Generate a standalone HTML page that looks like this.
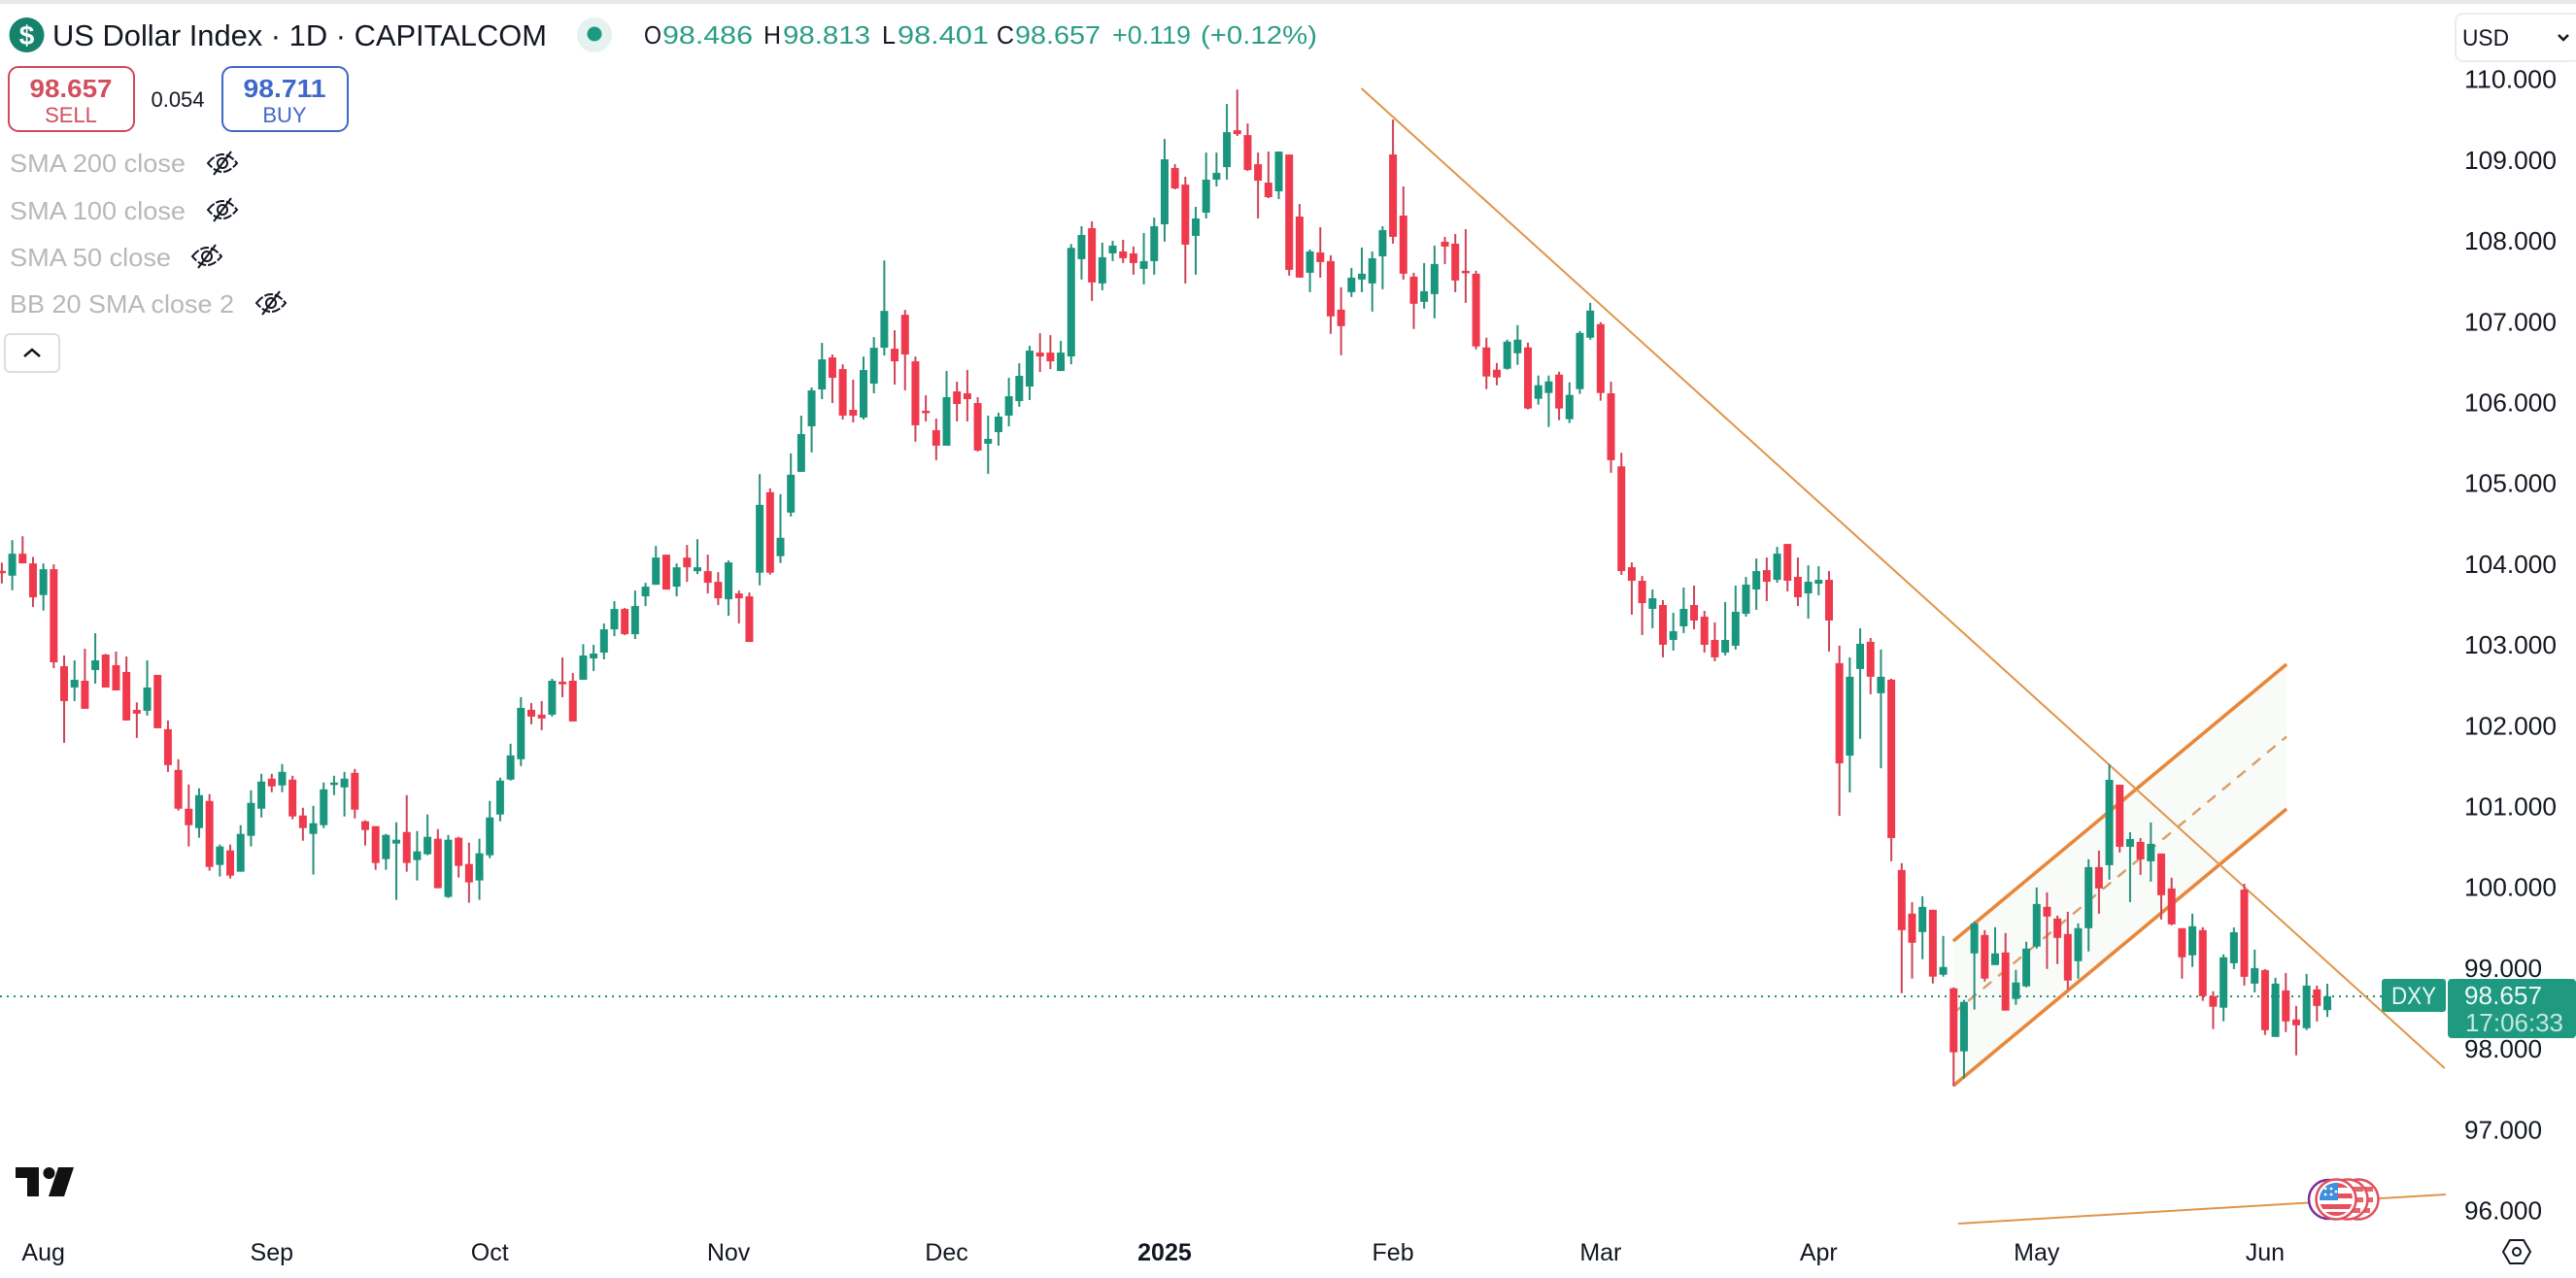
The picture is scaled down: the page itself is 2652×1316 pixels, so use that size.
<!DOCTYPE html>
<html lang="en">
<head>
<meta charset="utf-8">
<title>US Dollar Index chart</title>
<style>
html,body{margin:0;padding:0;background:#fff;width:2652px;height:1316px;overflow:hidden}
svg{display:block}
text{font-family:"Liberation Sans",sans-serif;fill:#131722}
</style>
</head>
<body>
<svg id="chart" xmlns="http://www.w3.org/2000/svg" width="2652" height="1316" viewBox="0 0 2652 1316">
  <rect x="0" y="0" width="2652" height="1316" fill="#ffffff"/>
  <rect x="0" y="0" width="2652" height="4" fill="#e8e8e8"/>
  <g id="drawings"></g>
  <g id="candles"></g>
  <g id="flags">
    <circle cx="2397" cy="1235" r="20" fill="#fff" stroke="#7f2d9a" stroke-width="2.5"/>
    <circle cx="2428" cy="1235" r="20.5" fill="#fff" stroke="#e0505c" stroke-width="2.5"/>
    <rect x="2410" y="1222" width="33" height="5" fill="#e8636b"/>
    <rect x="2410" y="1233" width="33" height="5" fill="#e8636b"/>
    <rect x="2410" y="1244" width="30" height="5" fill="#e8636b"/>
    <circle cx="2417" cy="1235" r="20.5" fill="#fff" stroke="#e0505c" stroke-width="2.5"/>
    <rect x="2400" y="1222" width="33" height="5" fill="#e8636b"/>
    <rect x="2400" y="1233" width="33" height="5" fill="#e8636b"/>
    <rect x="2400" y="1244" width="30" height="5" fill="#e8636b"/>
    <circle cx="2405" cy="1235" r="20.5" fill="#fff" stroke="#e0505c" stroke-width="2.5"/>
    <clipPath id="flagClip"><circle cx="2405" cy="1235" r="17"/></clipPath>
    <g clip-path="url(#flagClip)">
      <rect x="2388" y="1218" width="34" height="34" fill="#ffffff"/>
      <rect x="2388" y="1218" width="34" height="5" fill="#e8505c"/>
      <rect x="2388" y="1229" width="34" height="5" fill="#e8505c"/>
      <rect x="2388" y="1240" width="34" height="5" fill="#e8505c"/>
      <rect x="2388" y="1248" width="34" height="5" fill="#e8505c"/>
      <rect x="2388" y="1218" width="19" height="18" fill="#3f8fdc"/>
      <circle cx="2394" cy="1224" r="1.4" fill="#fff"/><circle cx="2400" cy="1224" r="1.4" fill="#fff"/>
      <circle cx="2394" cy="1230" r="1.4" fill="#fff"/><circle cx="2400" cy="1230" r="1.4" fill="#fff"/>
      <circle cx="2405" cy="1227" r="1.4" fill="#fff"/>
    </g>
  </g>
  <g id="yaxis"></g>
  <g id="xaxis"></g>

  <g>
    <rect x="2452" y="1008" width="66" height="34" rx="3" fill="#1f9a80"/>
    <text x="2485" y="1034" text-anchor="middle" font-size="25" textLength="46" lengthAdjust="spacingAndGlyphs" style="fill:#e8f6f2">DXY</text>
    <rect x="2520" y="1008" width="132" height="61" rx="4" fill="#1f9a80"/>
    <text x="2537" y="1034" font-size="26" textLength="80" lengthAdjust="spacingAndGlyphs" style="fill:#eef9f6">98.657</text>
    <text x="2538" y="1062" font-size="26" textLength="101" lengthAdjust="spacingAndGlyphs" style="fill:#c4e8df">17:06:33</text>
  </g>

  <g>
    <circle cx="27.5" cy="36" r="18" fill="#15826c"/>
    <text x="27.5" y="46" text-anchor="middle" font-size="28" font-weight="bold" style="fill:#ffffff">$</text>
    <text x="54" y="47" font-size="31" textLength="509" lengthAdjust="spacingAndGlyphs">US Dollar Index · 1D · CAPITALCOM</text>
    <circle cx="612" cy="36" r="18" fill="#e5f2ef"/>
    <circle cx="612" cy="35" r="7.5" fill="#1c9a80"/>
    <g font-size="26">
      <text x="663" y="45" textLength="18" lengthAdjust="spacingAndGlyphs">O</text>
      <text x="682" y="45" textLength="93" lengthAdjust="spacingAndGlyphs" style="fill:#2a9d85">98.486</text>
      <text x="786" y="45" textLength="18" lengthAdjust="spacingAndGlyphs">H</text>
      <text x="806" y="45" textLength="90" lengthAdjust="spacingAndGlyphs" style="fill:#2a9d85">98.813</text>
      <text x="908" y="45" textLength="14" lengthAdjust="spacingAndGlyphs">L</text>
      <text x="924" y="45" textLength="94" lengthAdjust="spacingAndGlyphs" style="fill:#2a9d85">98.401</text>
      <text x="1026" y="45" textLength="18" lengthAdjust="spacingAndGlyphs">C</text>
      <text x="1045" y="45" textLength="88" lengthAdjust="spacingAndGlyphs" style="fill:#2a9d85">98.657</text>
      <text x="1145" y="45" textLength="81" lengthAdjust="spacingAndGlyphs" style="fill:#2a9d85">+0.119</text>
      <text x="1236" y="45" textLength="120" lengthAdjust="spacingAndGlyphs" style="fill:#2a9d85">(+0.12%)</text>
    </g>

    <g>
      <rect x="9" y="69" width="129" height="66" rx="10" fill="#fff" stroke="#cf4a5a" stroke-width="2"/>
      <text x="73" y="100" text-anchor="middle" font-size="26" font-weight="bold" textLength="85" lengthAdjust="spacingAndGlyphs" style="fill:#d0505e">98.657</text>
      <text x="73" y="126" text-anchor="middle" font-size="22" style="fill:#d0505e">SELL</text>
    </g>
    <text x="183" y="110" text-anchor="middle" font-size="22">0.054</text>
    <g>
      <rect x="229" y="69" width="129" height="66" rx="10" fill="#fff" stroke="#3f68c8" stroke-width="2"/>
      <text x="293" y="100" text-anchor="middle" font-size="26" font-weight="bold" textLength="85" lengthAdjust="spacingAndGlyphs" style="fill:#3f68c8">98.711</text>
      <text x="293" y="126" text-anchor="middle" font-size="22" style="fill:#3f68c8">BUY</text>
    </g>

    <g font-size="26" style="fill:#b8b8b8">
      <text x="10" y="177" textLength="181" lengthAdjust="spacingAndGlyphs" style="fill:#b8b8b8">SMA 200 close</text>
      <text x="10" y="226" textLength="181" lengthAdjust="spacingAndGlyphs" style="fill:#b8b8b8">SMA 100 close</text>
      <text x="10" y="274" textLength="166" lengthAdjust="spacingAndGlyphs" style="fill:#b8b8b8">SMA 50 close</text>
      <text x="10" y="322" textLength="231" lengthAdjust="spacingAndGlyphs" style="fill:#b8b8b8">BB 20 SMA close 2</text>
    </g>
    <g transform="translate(229 168)" fill="none" stroke="#131722" stroke-width="2">
      <path d="M-15 0 Q0 -18 15 0 Q0 18 -15 0Z" stroke-dasharray="9 2"/><circle r="5"/><path d="M-9 12 L9 -12"/>
    </g>
    <g transform="translate(229 216)" fill="none" stroke="#131722" stroke-width="2">
      <path d="M-15 0 Q0 -18 15 0 Q0 18 -15 0Z" stroke-dasharray="9 2"/><circle r="5"/><path d="M-9 12 L9 -12"/>
    </g>
    <g transform="translate(213 264)" fill="none" stroke="#131722" stroke-width="2">
      <path d="M-15 0 Q0 -18 15 0 Q0 18 -15 0Z" stroke-dasharray="9 2"/><circle r="5"/><path d="M-9 12 L9 -12"/>
    </g>
    <g transform="translate(279 312)" fill="none" stroke="#131722" stroke-width="2">
      <path d="M-15 0 Q0 -18 15 0 Q0 18 -15 0Z" stroke-dasharray="9 2"/><circle r="5"/><path d="M-9 12 L9 -12"/>
    </g>
    <g>
      <rect x="5" y="344" width="56" height="39" rx="5" fill="#fff" stroke="#dedede" stroke-width="2"/>
      <path d="M25 367 L33 360 L41 367" fill="none" stroke="#131722" stroke-width="2.5"/>
    </g>
  </g>

  <g>
    <rect x="2528" y="14" width="130" height="49" rx="8" fill="#fff" stroke="#ececec" stroke-width="2"/>
    <text x="2535" y="47" font-size="24" textLength="48" lengthAdjust="spacingAndGlyphs">USD</text>
    <path d="M2634 36 L2639 41 L2644 36" fill="none" stroke="#131722" stroke-width="2.5"/>
  </g>

  <g fill="#111111">
    <path d="M16 1202 H40 V1232 H28 V1213 H16 Z"/>
    <circle cx="50.5" cy="1208" r="6"/>
    <path d="M60 1202 H76 L66 1232 H50 Z"/>
  </g>

  <g fill="none" stroke="#131722" stroke-width="2">
    <path d="M2577 1289 L2584 1277 H2598 L2605 1289 L2598 1301 H2584 Z"/>
    <circle cx="2591" cy="1289" r="4"/>
  </g>
</svg>
<script>
const opens = [
103.923,103.863,104.135,104.015,103.623,103.943,102.743,102.479,102.563,102.695,
102.887,102.755,102.671,102.203,102.191,102.635,101.963,101.459,100.979,100.739,
101.075,100.283,100.463,100.199,100.643,100.979,101.351,101.267,101.339,100.895,
100.667,100.775,101.279,101.243,101.423,100.823,100.763,100.355,100.547,100.691,
100.343,100.415,100.607,99.887,100.619,100.295,100.091,100.403,100.907,101.339,
101.591,102.203,102.143,102.143,102.551,102.563,102.575,102.839,102.911,103.199,
103.451,103.139,103.607,103.751,104.123,103.727,104.087,103.919,103.919,103.787,
103.571,103.643,103.607,103.90,104.896,104.104,104.644,105.148,105.712,106.168,
106.564,106.42,105.916,105.82,106.24,106.684,106.672,107.092,106.516,105.904,
105.664,105.472,106.144,106.12,106.00,105.496,105.64,105.844,106.024,106.204,
106.624,106.624,106.396,106.576,107.78,108.164,107.48,107.852,107.876,107.852,
107.66,107.756,108.212,108.908,108.704,108.068,108.356,108.764,108.92,109.376,
109.316,108.956,108.728,108.62,109.076,108.308,107.612,107.864,107.756,107.156,
107.372,107.528,107.48,107.816,109.076,108.32,107.564,107.252,107.348,107.996,
107.972,107.636,107.60,106.688,106.412,106.424,106.616,106.688,106.052,106.124,
106.352,105.80,106.172,106.808,106.976,106.12,105.216,103.968,103.80,103.452,
103.50,103.068,103.236,103.50,103.356,103.068,102.912,102.996,103.392,103.692,
103.932,103.812,104.256,103.848,103.644,103.764,103.812,102.78,101.636,102.708,
103.044,102.408,102.576,100.22,99.68,99.452,99.728,98.924,98.756,97.976,
99.188,99.416,99.044,99.20,98.624,98.78,99.272,99.764,99.62,99.428,
99.092,99.50,100.256,100.28,101.276,100.508,100.568,100.328,100.424,99.992,
99.50,99.164,99.476,98.66,98.516,99.066,99.978,98.814,98.982,98.154,
98.73,98.37,98.262,98.742,98.486];
const highs = [
104.023,104.303,104.351,104.095,104.015,104.003,102.875,102.815,102.959,103.151,
102.895,102.923,102.863,102.295,102.815,102.635,102.071,101.591,101.279,101.231,
101.159,100.535,100.535,100.775,101.207,101.411,101.411,101.531,101.387,100.991,
101.015,101.303,101.387,101.435,101.471,100.835,100.763,100.667,100.811,101.147,
100.703,100.907,100.727,100.655,100.631,100.559,100.607,101.075,101.363,101.783,
102.359,102.287,102.311,102.587,102.851,102.659,103.015,103.007,103.271,103.547,
103.463,103.679,103.775,104.231,104.123,104.015,104.243,104.315,104.123,103.907,
104.051,103.679,103.655,105.12,104.944,104.872,105.376,105.844,106.192,106.744,
106.60,106.48,106.288,106.576,106.816,107.764,106.90,107.152,106.576,106.096,
105.808,106.396,106.264,106.408,106.072,105.844,105.88,106.312,106.492,106.708,
106.864,106.84,106.768,107.968,108.188,108.248,107.984,108.008,108.02,107.936,
108.104,108.296,109.268,108.956,108.80,108.428,109.10,109.10,109.70,109.88,
109.46,109.10,109.112,109.112,109.076,108.464,107.90,108.176,107.828,107.432,
107.672,107.924,107.876,108.188,109.508,108.68,107.612,107.732,107.948,108.056,
108.092,108.152,107.636,106.808,106.496,106.784,106.964,106.748,106.34,106.34,
106.388,106.256,106.892,107.24,107.00,106.264,105.384,104.028,103.86,103.692,
103.56,103.404,103.716,103.74,103.428,103.284,103.536,103.74,103.848,104.076,
104.088,104.22,104.256,104.088,103.992,103.98,103.92,102.996,102.852,103.212,
103.092,102.948,102.588,100.304,99.824,99.896,99.728,99.404,98.768,98.612,
99.584,99.476,99.512,99.44,98.984,99.332,100.004,99.944,99.656,99.704,
99.56,100.352,100.46,101.528,101.276,100.688,100.616,100.808,100.424,100.124,
99.50,99.68,99.512,98.72,99.176,99.51,100.05,99.234,98.994,98.886,
98.946,98.538,98.934,98.79,98.813];
const lows = [
103.767,103.683,104.015,103.475,103.431,102.719,101.795,102.311,102.215,102.527,
102.479,102.443,102.071,101.855,102.131,101.975,101.435,100.955,100.511,100.619,
100.211,100.139,100.115,100.199,100.511,100.871,101.183,101.183,100.847,100.583,
100.163,100.739,101.147,100.883,100.859,100.523,100.223,100.223,99.851,100.199,
100.091,100.403,99.995,99.875,100.127,99.815,99.851,100.367,100.823,101.327,
101.507,102.023,101.951,102.119,102.359,102.059,102.575,102.683,102.827,103.115,
103.127,103.079,103.487,103.751,103.691,103.607,103.787,103.883,103.643,103.499,
103.367,103.271,103.043,103.744,103.876,104.02,104.596,105.148,105.388,106.048,
106.00,105.796,105.76,105.796,106.12,106.588,106.228,106.156,105.52,105.772,
105.292,105.472,105.772,105.772,105.40,105.124,105.472,105.712,105.952,106.036,
106.384,106.42,106.396,106.48,107.528,107.264,107.396,107.756,107.732,107.588,
107.468,107.588,107.996,108.644,107.48,107.588,108.284,108.68,108.764,109.304,
108.872,108.284,108.536,108.524,107.576,107.552,107.372,107.552,106.856,106.592,
107.312,107.372,107.132,107.408,107.972,107.528,106.916,107.168,107.048,107.72,
107.372,107.24,106.664,106.172,106.22,106.412,106.472,105.92,105.98,105.704,
105.788,105.752,106.112,106.784,106.028,105.136,103.872,103.38,103.128,103.212,
102.852,102.936,103.152,103.20,102.912,102.804,102.876,102.948,103.356,103.44,
103.548,103.776,103.668,103.488,103.332,103.62,102.924,100.89,101.18,101.844,
102.396,101.48,100.328,98.696,98.876,99.116,98.816,98.90,97.544,97.64,
98.492,98.84,99.044,98.48,98.552,98.768,99.248,98.996,99.056,98.744,
98.876,99.212,99.68,100.10,100.436,99.824,100.16,100.076,99.608,99.536,
98.876,99.02,98.60,98.252,98.348,98.994,98.79,98.706,98.178,98.154,
98.214,97.926,98.238,98.346,98.401];
const closes = [
103.903,104.135,104.015,103.595,103.943,102.791,102.311,102.575,102.215,102.815,
102.479,102.443,102.071,102.155,102.479,101.975,101.519,100.979,100.775,101.147,
100.259,100.511,100.151,100.667,101.051,101.315,101.255,101.435,100.883,100.739,
100.799,101.219,101.303,101.351,100.967,100.715,100.307,100.655,100.595,100.307,
100.451,100.631,99.995,100.595,100.271,100.067,100.427,100.871,101.327,101.639,
102.227,102.119,102.095,102.563,102.519,102.059,102.875,102.899,103.199,103.451,
103.139,103.487,103.727,104.087,103.691,103.967,103.967,103.967,103.775,103.583,
104.027,103.583,103.043,104.74,103.90,104.332,105.112,105.616,106.156,106.54,
106.312,105.844,105.844,106.408,106.684,107.14,106.516,106.60,105.724,105.88,
105.472,106.072,105.988,106.048,105.412,105.556,105.832,106.084,106.336,106.648,
106.576,106.516,106.624,107.92,108.08,107.492,107.804,107.948,107.792,107.732,
107.756,108.188,109.016,108.656,107.96,108.284,108.764,108.848,109.352,109.328,
108.884,108.752,108.548,109.112,107.648,107.552,107.876,107.744,107.072,106.952,
107.552,107.60,107.792,108.14,108.056,107.60,107.228,107.384,107.72,107.936,
107.516,107.612,106.70,106.328,106.316,106.76,106.784,105.932,106.22,106.268,
105.932,106.10,106.868,107.144,106.124,105.292,103.92,103.80,103.524,103.584,
103.008,103.176,103.452,103.308,103.008,102.852,103.068,103.416,103.752,103.92,
103.788,104.136,103.80,103.596,103.788,103.812,103.308,101.54,102.612,103.02,
102.612,102.612,100.616,99.476,99.32,99.764,98.90,99.02,97.964,98.588,
99.56,98.876,99.188,98.48,98.828,99.248,99.80,99.644,99.38,98.852,
99.50,100.256,99.992,101.336,100.508,100.604,100.352,100.544,99.908,99.548,
99.14,99.524,98.66,98.528,99.14,99.45,98.898,99.006,98.238,98.814,
98.346,98.298,98.79,98.538,98.657];

const priceTicks = [110,109,108,107,106,105,104,103,102,101,100,99,98,97,96];
const timeBars = [4,26,47,70,91,112,134,154,175,196,218];
const timeLabels = ["Aug","Sep","Oct","Nov","Dec","2025","Feb","Mar","Apr","May","Jun"];
const lastPrice = 98.657;

const trendBars = [130.96,235.3];
const trendPrices = [109.894,97.767];
const channelBars = [187.97,220.07];
const channelUpper = [99.341,102.767];
const channelLower = [97.55,100.976];
const floorBars = [188.44,235.4];
const floorPrices = [95.844,96.204];

const SVGNS = "http://www.w3.org/2000/svg";
function xScale(i){ return 1.9 + 10.688 * i; }
function yScale(p){ return 1247 - (p - 96) * 83.2; }
function make(tag, attrs, parent){
  const el = document.createElementNS(SVGNS, tag);
  for (const k in attrs) el.setAttribute(k, attrs[k]);
  parent.appendChild(el);
  return el;
}
const drawings = document.getElementById("drawings");
const candles = document.getElementById("candles");
const yaxis = document.getElementById("yaxis");
const xaxis = document.getElementById("xaxis");

const mid0 = (channelUpper[0] + channelLower[0]) / 2;
const mid1 = (channelUpper[1] + channelLower[1]) / 2;

const chFill = make("polygon", {points:
  xScale(channelBars[0])+","+yScale(channelUpper[0])+" "+
  xScale(channelBars[1])+","+yScale(channelUpper[1])+" "+
  xScale(channelBars[1])+","+yScale(channelLower[1])+" "+
  xScale(channelBars[0])+","+yScale(channelLower[0]), fill:"#f9fbf9"}, drawings);



const priceLine = make("line", {x1:0, x2:2452, y1:yScale(lastPrice), y2:yScale(lastPrice), stroke:"#1c8f78", "stroke-width":2, "stroke-dasharray":"2 5"}, drawings);



const chMid = make("line", {x1:xScale(channelBars[0]), y1:yScale(mid0), x2:xScale(channelBars[1]), y2:yScale(mid1), stroke:"#d99d68", "stroke-width":2.4, "stroke-dasharray":"11 9"}, drawings);



const chUp = make("line", {x1:xScale(channelBars[0]), y1:yScale(channelUpper[0]), x2:xScale(channelBars[1]), y2:yScale(channelUpper[1]), stroke:"#e8873a", "stroke-width":3.6}, drawings);



const chLow = make("line", {x1:xScale(channelBars[0]), y1:yScale(channelLower[0]), x2:xScale(channelBars[1]), y2:yScale(channelLower[1]), stroke:"#e8873a", "stroke-width":3.6}, drawings);



const trend = make("line", {x1:xScale(trendBars[0]), y1:yScale(trendPrices[0]), x2:xScale(trendBars[1]), y2:yScale(trendPrices[1]), stroke:"#e0944a", "stroke-width":2}, drawings);



const floorLine = make("line", {x1:xScale(floorBars[0]), y1:yScale(floorPrices[0]), x2:xScale(floorBars[1]), y2:yScale(floorPrices[1]), stroke:"#e0944a", "stroke-width":2}, drawings);



opens.forEach(function(o, i){
  const c = closes[i];
  const up = c >= o;
  const body = up ? "#1b967e" : "#ef3a4d";
  const wickColor = up ? "#28917c" : "#cc4458";
  const x = xScale(i);
  const wick = make("line", {x1:x, x2:x, y1:yScale(highs[i]), y2:yScale(lows[i]), stroke:wickColor, "stroke-width":2}, candles);
  
  
  const top = yScale(Math.max(o, c));
  const h = Math.max(2.5, Math.abs(yScale(o) - yScale(c)));
  const rect = make("rect", {x:x - 4, y:top, width:8, height:h, fill:body}, candles);
  
  
});

priceTicks.forEach(function(p){
  const t = make("text", {x:2537, y:yScale(p) + 8.5, "font-size":26, textLength: p >= 100 ? 95 : 80, lengthAdjust:"spacingAndGlyphs"}, yaxis);
  
  
  t.textContent = p.toFixed(3);
});

timeLabels.forEach(function(label, i){
  const t = make("text", {x:xScale(timeBars[i]), y:1298, "text-anchor":"middle", "font-size":25}, xaxis);
  
  
  if (label === "2025") t.setAttribute("font-weight", "bold");
  t.textContent = label;
});
</script>
</body>
</html>
